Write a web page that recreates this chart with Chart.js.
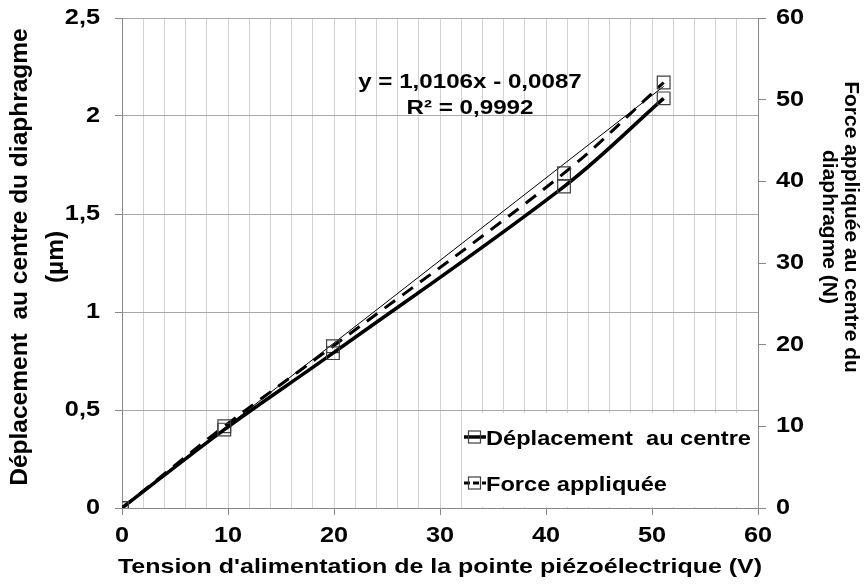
<!DOCTYPE html>
<html>
<head>
<meta charset="utf-8">
<script src="https://cdn.jsdelivr.net/npm/chart.js@4.4.1/dist/chart.umd.min.js"></script>
<style>
  html, body { margin: 0; padding: 0; background: #ffffff; }
  #wrap { width: 868px; height: 585px; position: relative; }
</style>
</head>
<body>
<div id="wrap"><canvas id="c" width="868" height="585"></canvas></div>
<script>
// Tension d'alimentation (V)
const tension = [0, 9.65, 19.9, 41.7, 51.1];
// Déplacement au centre du diaphragme (µm)
const deplacement = [0, 0.40, 0.79, 1.64, 2.09];
// Force appliquée au centre du diaphragme (N)
const force = [0, 10.0, 19.8, 41.0, 52.1];

// Linear trend of the force series
const trendSlope = 1.0106;
const trendIntercept = -0.0087;
const trendR2 = 0.9992;
const trendRange = [0, 51.1];

const xTicks = [0, 10, 20, 30, 40, 50, 60];
const yLeftTicks = [0, 0.5, 1, 1.5, 2, 2.5];
const yRightTicks = [0, 10, 20, 30, 40, 50, 60];

const legendLabels = ['Déplacement  au centre', 'Force appliquée'];
const xTitle = "Tension d'alimentation de la pointe piézoélectrique (V)";
const yLeftTitle = ['Déplacement  au centre du diaphragme', '(µm)'];
const yRightTitle = ['Force appliquée au centre du', 'diaphragme (N)'];

const FONT = '"Liberation Sans", Arial, sans-serif';
const fr = v => String(v).replace('.', ',');

Chart.defaults.font.family = FONT;
Chart.defaults.font.weight = 'bold';
Chart.defaults.color = '#000';

const pairs = ys => tension.map((x, i) => ({ x: x, y: ys[i] }));
const trendData = trendRange.map(x => ({ x: x, y: trendSlope * x + trendIntercept }));

// horizontally widened text (labels use a broad bold face)
function wideText(ctx, text, x, y, sx, align) {
  ctx.save();
  ctx.translate(x, y);
  ctx.scale(sx, 1);
  ctx.textAlign = align;
  ctx.fillText(text, 0, 0);
  ctx.restore();
}

const overlay = {
  id: 'overlay',
  afterDatasetsDraw(chart) {
    const ctx = chart.ctx;
    const area = chart.chartArea;
    // legend box
    const lx = 462, ly = 413;
    ctx.save();
    ctx.fillStyle = '#fff';
    ctx.fillRect(lx, ly, area.right - lx - 1, area.bottom - ly - 1);
    ctx.fillStyle = '#000';
    ctx.font = 'bold 20px ' + FONT;
    ctx.textBaseline = 'alphabetic';
    const rows = [445, 491];
    const styles = [
      { w: 3.5, dash: [] },
      { w: 3, dash: [6, 3] }
    ];
    rows.forEach((by, i) => {
      const cy = by - 8;
      ctx.save();
      ctx.strokeStyle = '#000';
      ctx.lineWidth = styles[i].w;
      ctx.setLineDash(styles[i].dash);
      ctx.beginPath();
      ctx.moveTo(464, cy);
      ctx.lineTo(486, cy);
      ctx.stroke();
      ctx.setLineDash([]);
      ctx.lineWidth = 1.2;
      ctx.strokeStyle = '#404040';
      ctx.strokeRect(468.5, cy - 6, 12, 12);
      ctx.restore();
      wideText(ctx, legendLabels[i], 486, by, 1.18, 'left');
    });
    // trend equation
    ctx.font = 'bold 21px ' + FONT;
    const sign = trendIntercept < 0 ? '-' : '+';
    const eq = 'y = ' + fr(trendSlope.toFixed(4)) + 'x ' + sign + ' ' + fr(Math.abs(trendIntercept).toFixed(4));
    wideText(ctx, eq, 470, 88, 1.15, 'center');
    wideText(ctx, 'R² = ' + fr(trendR2.toFixed(4)), 470, 114, 1.15, 'center');
    ctx.restore();
  },
  afterDraw(chart) {
    const ctx = chart.ctx;
    const sx = chart.scales.x, sy = chart.scales.y, sy2 = chart.scales.y2;
    ctx.save();
    ctx.fillStyle = '#000';
    ctx.textBaseline = 'middle';
    // tick labels, placed through the scales
    ctx.font = 'bold 22px ' + FONT;
    xTicks.forEach(v => wideText(ctx, String(v), sx.getPixelForValue(v), 536, 1.15, 'center'));
    yLeftTicks.forEach(v => wideText(ctx, fr(v), 100, sy.getPixelForValue(v), 1.15, 'right'));
    yRightTicks.forEach(v => wideText(ctx, String(v), 776, sy2.getPixelForValue(v), 1.15, 'left'));
    // x title
    ctx.font = 'bold 21px ' + FONT;
    wideText(ctx, xTitle, 440, 567, 1.19, 'center');
    // left title
    ctx.font = 'bold 24.5px ' + FONT;
    ctx.save();
    ctx.translate(20, 257);
    ctx.rotate(-Math.PI / 2);
    ctx.textAlign = 'center';
    ctx.fillText(yLeftTitle[0], 0, 0);
    ctx.fillText(yLeftTitle[1], 0, 36);
    ctx.restore();
    // right title
    ctx.font = 'bold 21px ' + FONT;
    ctx.save();
    ctx.translate(851, 227);
    ctx.rotate(Math.PI / 2);
    ctx.textAlign = 'center';
    ctx.fillText(yRightTitle[0], 0, 0);
    ctx.fillText(yRightTitle[1], 0, 22);
    ctx.restore();
    ctx.restore();
  }
};

new Chart(document.getElementById('c'), {
  type: 'line',
  data: {
    datasets: [
      {
        label: legendLabels[0],
        data: pairs(deplacement),
        yAxisID: 'y',
        borderColor: '#000',
        borderWidth: 3.5,
        tension: 0.35,
        pointStyle: 'rect',
        pointRadius: 9,
        pointBorderColor: '#404040',
        pointBorderWidth: 1.2,
        pointBackgroundColor: 'rgba(0,0,0,0)'
      },
      {
        label: legendLabels[1],
        data: pairs(force),
        yAxisID: 'y2',
        borderColor: '#000',
        borderWidth: 3,
        borderDash: [13, 9],
        tension: 0.35,
        pointStyle: 'rect',
        pointRadius: 9,
        pointBorderColor: '#404040',
        pointBorderWidth: 1.2,
        pointBackgroundColor: 'rgba(0,0,0,0)'
      },
      {
        label: 'trend',
        data: trendData,
        yAxisID: 'y2',
        borderColor: '#000',
        borderWidth: 1,
        pointRadius: 0,
        tension: 0
      }
    ]
  },
  options: {
    responsive: false,
    animation: false,
    devicePixelRatio: 1,
    layout: { padding: { top: 18, left: 0, right: 0, bottom: 0 } },
    plugins: { legend: { display: false }, tooltip: { enabled: false } },
    scales: {
      x: {
        type: 'linear',
        min: 0, max: 60,
        ticks: { stepSize: 2, autoSkip: false, maxRotation: 0, display: false },
        grid: {
          color: '#d2d2d2',
          tickLength: 7,
          tickColor: c => (c.tick && xTicks.includes(c.tick.value) ? '#888' : 'rgba(0,0,0,0)')
        },
        border: { color: '#888' },
        afterFit: s => { s.height = 77; s.paddingLeft = 0; s.paddingRight = 0; }
      },
      y: {
        position: 'left',
        min: 0, max: 2.5,
        afterBuildTicks: s => { s.ticks = yLeftTicks.map(v => ({ value: v })); },
        ticks: { display: false },
        grid: { color: '#a8a8a8', tickLength: 7, tickColor: '#888' },
        border: { color: '#888' },
        afterFit: s => { s.width = 122; s.paddingTop = 0; s.paddingBottom = 0; }
      },
      y2: {
        position: 'right',
        min: 0, max: 60,
        afterBuildTicks: s => { s.ticks = yRightTicks.map(v => ({ value: v })); },
        ticks: { display: false },
        grid: { drawOnChartArea: false, tickLength: 8, tickColor: '#888' },
        border: { color: '#888' },
        afterFit: s => { s.width = 110; s.paddingTop = 0; s.paddingBottom = 0; }
      }
    }
  },
  plugins: [overlay]
});
</script>
</body>
</html>
